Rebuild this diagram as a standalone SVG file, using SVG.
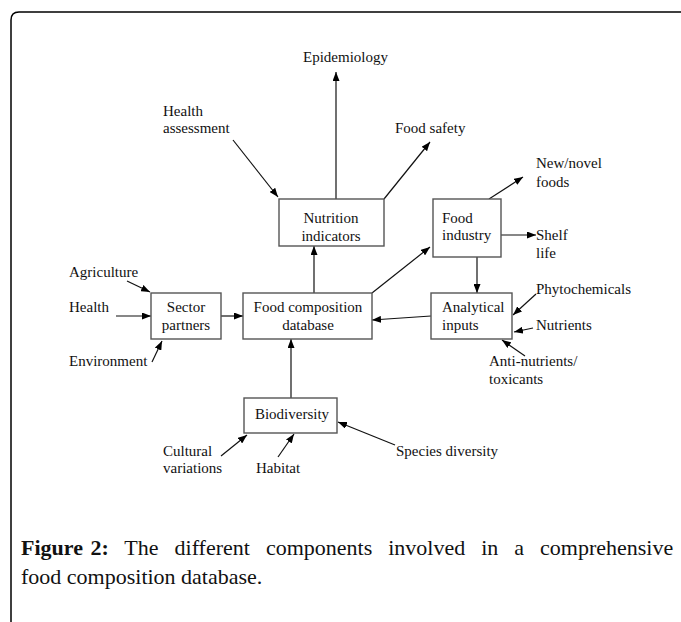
<svg xmlns="http://www.w3.org/2000/svg" width="681" height="622" viewBox="0 0 681 622">
<defs>
<marker id="ah" viewBox="0 0 9 7" refX="9" refY="3.5" markerWidth="9" markerHeight="7" markerUnits="userSpaceOnUse" orient="auto">
<path d="M0,0 L9,3.5 L0,7 z" fill="#000"/>
</marker>
</defs>
<style>
.t{font-family:"Liberation Serif","Times New Roman",serif;font-size:15px;fill:#111}
.c{text-anchor:middle}
.box{fill:#fff;stroke:#555;stroke-width:1.4}
.ln{fill:none;stroke:#111;stroke-width:1.2;marker-end:url(#ah)}
.cap{font-family:"Liberation Serif","Times New Roman",serif;font-size:22px;fill:#111}
</style>
<rect width="681" height="622" fill="#fff"/>
<path d="M11,622 V20 Q11,12 19,12 H681" fill="none" stroke="#000" stroke-width="1.5"/>

<g id="connectors">
<line class="ln" x1="336" y1="199" x2="336" y2="72"/>
<line class="ln" x1="233" y1="140" x2="278" y2="197"/>
<line class="ln" x1="384" y1="199" x2="430" y2="142"/>
<line class="ln" x1="314" y1="293" x2="314" y2="246"/>
<line class="ln" x1="372" y1="293" x2="430" y2="247"/>
<line class="ln" x1="489" y1="199" x2="523" y2="177"/>
<line class="ln" x1="501" y1="235" x2="536" y2="235"/>
<line class="ln" x1="477" y1="257" x2="477" y2="293"/>
<line class="ln" x1="431" y1="316" x2="372" y2="320"/>
<line class="ln" x1="536" y1="294" x2="513" y2="315"/>
<line class="ln" x1="533" y1="328" x2="514" y2="332"/>
<line class="ln" x1="525" y1="356" x2="502" y2="340"/>
<line class="ln" x1="127" y1="281" x2="150" y2="292"/>
<line class="ln" x1="116" y1="316" x2="151" y2="316"/>
<line class="ln" x1="152" y1="362" x2="162" y2="341"/>
<line class="ln" x1="221" y1="316" x2="243" y2="316"/>
<line class="ln" x1="291" y1="398" x2="291" y2="339"/>
<line class="ln" x1="221" y1="456" x2="247" y2="435"/>
<line class="ln" x1="278" y1="457" x2="294" y2="434"/>
<line class="ln" x1="395" y1="445" x2="338" y2="422"/>
</g>

<g id="nutrition-indicators">
<rect class="box" x="279" y="199" width="105" height="47"/>
<text class="t c" x="331" y="223">Nutrition</text>
<text class="t c" x="331" y="241">indicators</text>
</g>
<g id="food-industry">
<rect class="box" x="433" y="199" width="68" height="58"/>
<text class="t" x="442" y="223">Food</text>
<text class="t" x="442" y="240">industry</text>
</g>
<g id="sector-partners">
<rect class="box" x="151" y="293" width="70" height="46"/>
<text class="t c" x="186" y="312">Sector</text>
<text class="t c" x="186" y="330">partners</text>
</g>
<g id="food-composition-database">
<rect class="box" x="243" y="293" width="129" height="46"/>
<text class="t c" x="308" y="312">Food composition</text>
<text class="t c" x="308" y="330">database</text>
</g>
<g id="analytical-inputs">
<rect class="box" x="431" y="293" width="81" height="46"/>
<text class="t" x="442" y="312">Analytical</text>
<text class="t" x="442" y="330">inputs</text>
</g>
<g id="biodiversity">
<rect class="box" x="244" y="398" width="93" height="35"/>
<text class="t c" x="292" y="419">Biodiversity</text>
</g>

<g id="labels">
<text class="t" x="303" y="62">Epidemiology</text>
<text class="t" x="163" y="116">Health</text>
<text class="t" x="163" y="133">assessment</text>
<text class="t" x="395" y="133">Food safety</text>
<text class="t" x="536" y="168">New/novel</text>
<text class="t" x="536" y="187">foods</text>
<text class="t" x="536" y="240">Shelf</text>
<text class="t" x="536" y="258">life</text>
<text class="t" x="69" y="277">Agriculture</text>
<text class="t" x="69" y="312">Health</text>
<text class="t" x="69" y="366">Environment</text>
<text class="t" x="536" y="294">Phytochemicals</text>
<text class="t" x="536" y="330">Nutrients</text>
<text class="t" x="489" y="366">Anti-nutrients/</text>
<text class="t" x="489" y="384">toxicants</text>
<text class="t" x="163" y="456">Cultural</text>
<text class="t" x="163" y="473">variations</text>
<text class="t" x="256" y="473">Habitat</text>
<text class="t" x="396" y="456">Species diversity</text>
</g>

<g id="caption">
<text class="cap" x="21" y="555" word-spacing="10.5"><tspan font-weight="bold" word-spacing="2">Figure 2:</tspan> The different components involved in a comprehensive</text>
<text class="cap" x="21" y="584">food composition database.</text>
</g>
</svg>
